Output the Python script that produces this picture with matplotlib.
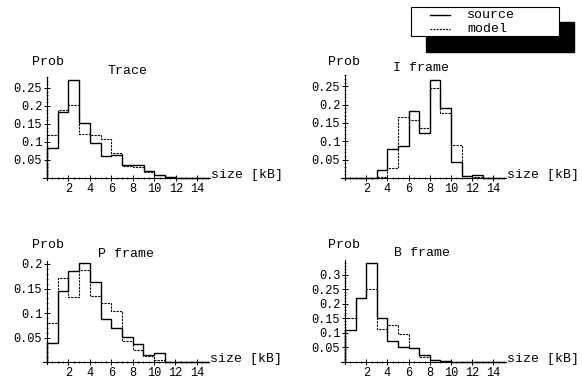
import matplotlib
matplotlib.use("Agg")
import matplotlib.pyplot as plt
from matplotlib.patches import Rectangle
from matplotlib.lines import Line2D
import numpy as np

plt.rcParams['font.family'] = ['Liberation Mono', 'DejaVu Sans Mono']

# ---------------- data ----------------
bin_edges = list(range(0, 16))
x_ticks = [2, 4, 6, 8, 10, 12, 14]

titles = ["Trace", "I frame", "P frame", "B frame"]

trace_source = [0.083, 0.183, 0.271, 0.153, 0.097, 0.062, 0.065, 0.037, 0.037, 0.020, 0.009, 0.002, 0.001, 0.001, 0.001]
trace_model = [0.119, 0.188, 0.202, 0.122, 0.119, 0.108, 0.069, 0.032, 0.030, 0.017, 0.008, 0.002, 0.001, 0.001, 0.001]

iframe_source = [0.0, 0.0, 0.0, 0.021, 0.079, 0.086, 0.182, 0.123, 0.268, 0.191, 0.044, 0.005, 0.009, 0.001, 0.0]
iframe_model = [0.0, 0.0, 0.0, 0.003, 0.028, 0.166, 0.159, 0.136, 0.244, 0.178, 0.091, 0.005, 0.003, 0.0, 0.0]

pframe_source = [0.039, 0.144, 0.185, 0.202, 0.164, 0.087, 0.070, 0.051, 0.036, 0.015, 0.018, 0.001, 0.001, 0.0, 0.0]
pframe_model = [0.080, 0.171, 0.132, 0.188, 0.134, 0.121, 0.104, 0.042, 0.024, 0.012, 0.005, 0.001, 0.001, 0.0, 0.0]

bframe_source = [0.109, 0.220, 0.341, 0.151, 0.072, 0.052, 0.049, 0.023, 0.008, 0.002, 0.001, 0.0, 0.0, 0.0, 0.0]
bframe_model = [0.151, 0.220, 0.252, 0.115, 0.126, 0.095, 0.048, 0.017, 0.006, 0.002, 0.001, 0.0, 0.0, 0.0, 0.0]

y_ticks_trace = [0.05, 0.1, 0.15, 0.2, 0.25]
y_ticks_iframe = [0.05, 0.1, 0.15, 0.2, 0.25]
y_ticks_pframe = [0.05, 0.1, 0.15, 0.2]
y_ticks_bframe = [0.05, 0.1, 0.15, 0.2, 0.25, 0.3]

y_tops = [0.28, 0.28, 0.206, 0.35]

legend_labels = ["source", "model"]

# ---------------- layout ----------------
W, H = 582, 378
fig = plt.figure(figsize=(W / 100, H / 100), dpi=100)

# (pixel x of data 0, px per unit x, pixel y of data 0, px per unit y)
layouts = [
    (47, 10.73, 178, 360),
    (345, 10.6, 178, 367),
    (47, 10.7, 362, 490),
    (345, 10.6, 362, 291),
]
title_pos = [(127, 71), (421, 68), (126, 254), (422, 253)]
prob_pos = [(32, 62), (328, 62), (32, 245), (328, 245)]

series = [
    (trace_source, trace_model, y_ticks_trace),
    (iframe_source, iframe_model, y_ticks_iframe),
    (pframe_source, pframe_model, y_ticks_pframe),
    (bframe_source, bframe_model, y_ticks_bframe),
]

XLO, XHI = -0.35, 15.15
YLO_PX = 1.5  # pixels below zero

fs_tick = 8.6
fs_lab = 9.5

for i, ((x0, xpu, y0, ypu), (src, mdl, yt)) in enumerate(zip(layouts, series)):
    ytop = y_tops[i]
    left = x0 + XLO * xpu
    right = x0 + XHI * xpu
    top = y0 - ytop * ypu
    bottom = y0 + YLO_PX
    ylo = -YLO_PX / ypu
    ax = fig.add_axes([left / W, 1 - bottom / H, (right - left) / W, (bottom - top) / H])
    ax.set_xlim(XLO, XHI)
    ax.set_ylim(ylo, ytop)
    ax.patch.set_alpha(0)
    for s in ['top', 'right']:
        ax.spines[s].set_visible(False)
    ax.spines['left'].set_position(('data', 0))
    ax.spines['bottom'].set_position(('data', 0))
    ax.spines['left'].set_linewidth(0.8)
    ax.spines['bottom'].set_linewidth(0.8)

    ax.stairs(mdl, bin_edges, baseline=0, color='black', lw=0.8, linestyle=(0, (2, 1)))
    ax.stairs(src, bin_edges, baseline=0, color='black', lw=1.0)

    ax.set_xticks(x_ticks)
    ax.set_xticklabels([str(t) for t in x_ticks], fontsize=fs_tick)
    ax.set_yticks(yt)
    ax.set_yticklabels([("%g" % t) for t in yt], fontsize=fs_tick)
    ax.set_xticks(np.arange(0, 15.01, 0.5), minor=True)
    ax.set_yticks(np.arange(0, ytop, 0.01), minor=True)
    ax.tick_params(which='major', direction='inout', length=4, width=0.7, pad=1.5)
    ax.tick_params(which='minor', direction='inout', length=2, width=0.5)

    tx, ty = title_pos[i]
    fig.text(tx / W, 1 - ty / H, titles[i], ha='center', va='center', fontsize=fs_lab)
    px, py = prob_pos[i]
    fig.text(px / W, 1 - py / H, "Prob", ha='left', va='center', fontsize=fs_lab)
    fig.text((x0 + 15.25 * xpu) / W, 1 - (y0 - 3) / H, "size [kB]", ha='left', va='center', fontsize=fs_lab)

# ---------------- legend ----------------
def fx(p):
    return p / W

def fy(p):
    return 1 - p / H

fig.patches.append(Rectangle((fx(426), fy(52)), fx(574) - fx(426), fy(22) - fy(52),
                             transform=fig.transFigure, facecolor='black', edgecolor='black', zorder=1))
fig.patches.append(Rectangle((fx(411), fy(36)), fx(559) - fx(411), fy(7) - fy(36),
                             transform=fig.transFigure, facecolor='white', edgecolor='black', lw=0.8, zorder=2))
fig.lines.append(Line2D([fx(430), fx(450)], [fy(15), fy(15)], transform=fig.transFigure,
                        color='black', lw=1.0, zorder=3))
fig.lines.append(Line2D([fx(430), fx(450)], [fy(29), fy(29)], transform=fig.transFigure,
                        color='black', lw=0.9, linestyle=(0, (1.5, 1)), zorder=3))
fig.text(fx(467), fy(15), legend_labels[0], ha='left', va='center', fontsize=fs_lab, zorder=4)
fig.text(fx(467), fy(29), legend_labels[1], ha='left', va='center', fontsize=fs_lab, zorder=4)

fig.savefig("out.png", dpi=100)
